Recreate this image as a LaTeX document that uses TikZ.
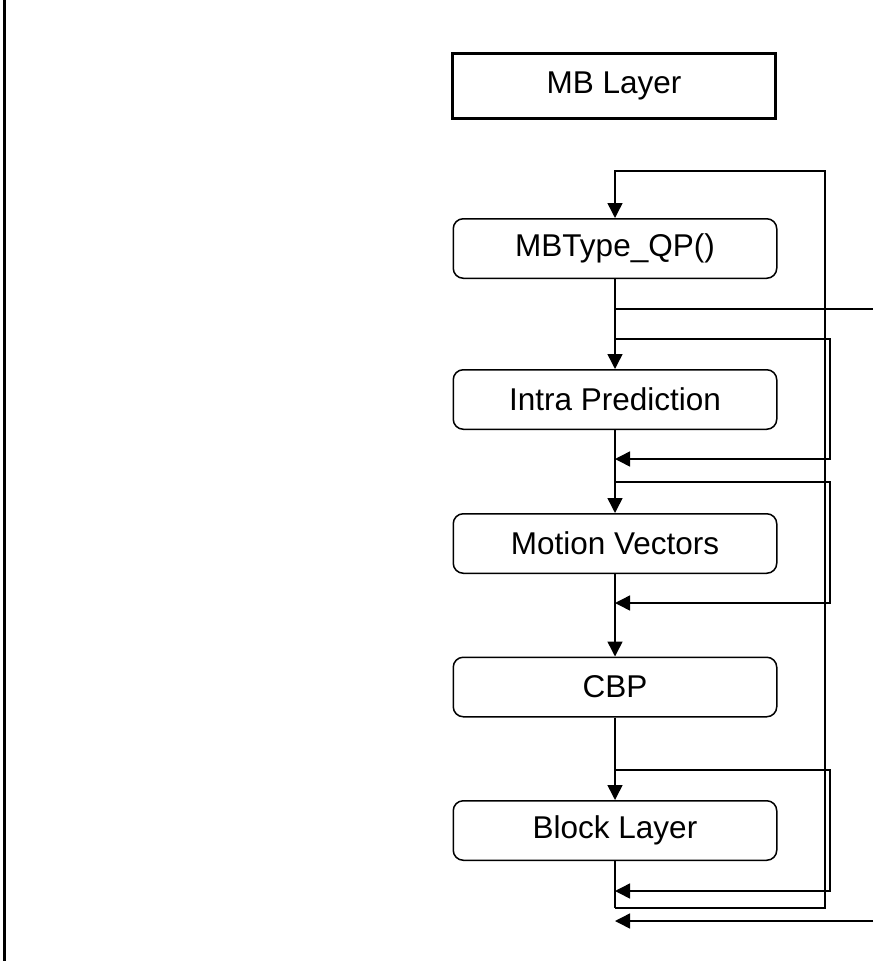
\documentclass[tikz,border=0pt]{standalone}
\usepackage{fontspec}
\setmainfont{Liberation Sans}
\usetikzlibrary{arrows.meta}
\begin{document}
\begin{tikzpicture}[x=1pt,y=-1pt,line join=miter,font=\fontsize{31.5}{38}\selectfont,>={Triangle[length=15pt,width=15pt]},line width=1.5pt,
	stage/.style={draw,rounded corners=10pt,minimum width=323.5pt,minimum height=59.5pt,inner sep=0pt},
	layer/.style={draw,line width=3pt,minimum width=323pt,minimum height=65pt,inner sep=0pt}]
		\useasboundingbox (0,0) rectangle (873,961);
		\draw[line width=2.7pt] (4.7,0)--(4.7,961);
		\node[layer] (mb) at (614,86) {MB Layer};
		\node[stage] (type) at (615,248.5) {MBType\_QP()};
		\node[stage] (intra) at (615,399.5) {Intra Prediction};
		\node[stage] (motion) at (615,543.5) {Motion Vectors};
		\node[stage] (cbp) at (615,687) {CBP};
		\node[stage] (block) at (615,830.5) {Block Layer};
		% outer loop
		\coordinate (loopT) at (615,171);
		\coordinate (loopB) at (615,908);
		\draw (block)--(loopB);
		\draw[->] (loopB)--++(210,0)|-(loopT)--(type);
		\draw[->] (type)--(intra);
		\draw[->] (intra)--(motion);
		\draw[->] (motion)--(cbp);
		\draw[->] (cbp)--(block);
		\coordinate (out) at (873,309);
		\draw (type.south |- out)--(out);
		% bypass loops
		\foreach \n/\a/\b in {intra/339/459,motion/482/603,block/770/891}{
			\coordinate (s\n) at (615,\a);
			\coordinate (e\n) at (615,\b);
			\draw[->] (s\n)--++(215,0)|-(e\n);
		}
		\coordinate (in) at (873,921);
		\draw[->] (in)--(in -| loopB);
	\end{tikzpicture}
\end{document}
